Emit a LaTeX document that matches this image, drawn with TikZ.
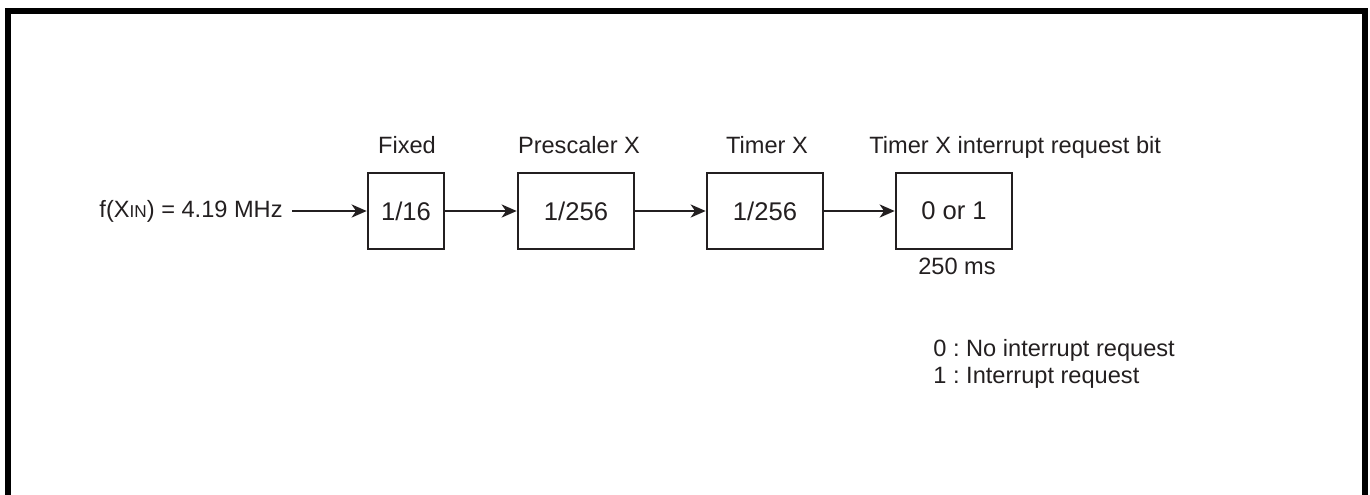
\documentclass[tikz,border=0pt]{standalone}
\usepackage{fontspec}
\setmainfont{Liberation Sans}
\usetikzlibrary{arrows.meta}
\definecolor{ink}{HTML}{231F20}
\frenchspacing
\begin{document}
\begin{tikzpicture}[x=0.5pt,y=-0.5pt,
  every node/.style={font=\fontsize{11.8}{14}\selectfont, text=ink},
  blk/.style={draw=ink, line width=1.3pt, inner sep=0pt, minimum height=38pt, font=\fontsize{12.8}{15}\selectfont},
  sq/.style={blk, minimum width=38pt},
  wide/.style={blk, minimum width=58pt},
  conn/.style={draw=ink, line width=1.3pt, -{Stealth[length=7.5pt,width=6.5pt,inset=2.2pt]}},
  lbl/.style={anchor=base, inner sep=0pt}]
\useasboundingbox (0,0) rectangle (1370,494);
% frame
\draw[line width=3pt, line join=miter] (8,500) -- (8,10.5) -- (1364.5,10.5) -- (1364.5,500);
% boxes
\node[sq]   (b1) at (406,211) {1/16};
\node[wide] (b2) at (576,211) {1/256};
\node[wide] (b3) at (765,211) {1/256};
\node[wide] (b4) at (954,211) {0 or 1};
% labels
\node[lbl] (l1) at (407,153) {Fixed};
\node[lbl] (l2) at (579,153) {Prescaler X};
\node[lbl] (l3) at (767,153) {Timer X};
\node[lbl, anchor=base west] (l4) at (869,153) {Timer X interrupt request bit};
\node[lbl] (ms) at (957,274) {250 ms};
% input
\node[anchor=east, inner sep=0pt] (in) at (283,211) {f(X{\fontsize{8.6}{10}\selectfont IN}) = 4.19 MHz};
\coordinate (ins) at (292,211);
% connectors
\draw[conn] (ins) -- (b1.west);
\draw[conn] (b1.east) -- (b2.west);
\draw[conn] (b2.east) -- (b3.west);
\draw[conn] (b3.east) -- (b4.west);
% legend
\node[lbl, anchor=base west] (g0) at (933,356) {0 : No interrupt request};
\node[lbl, anchor=base west] (g1) at (933,383) {1 : Interrupt request};
\end{tikzpicture}
\end{document}
